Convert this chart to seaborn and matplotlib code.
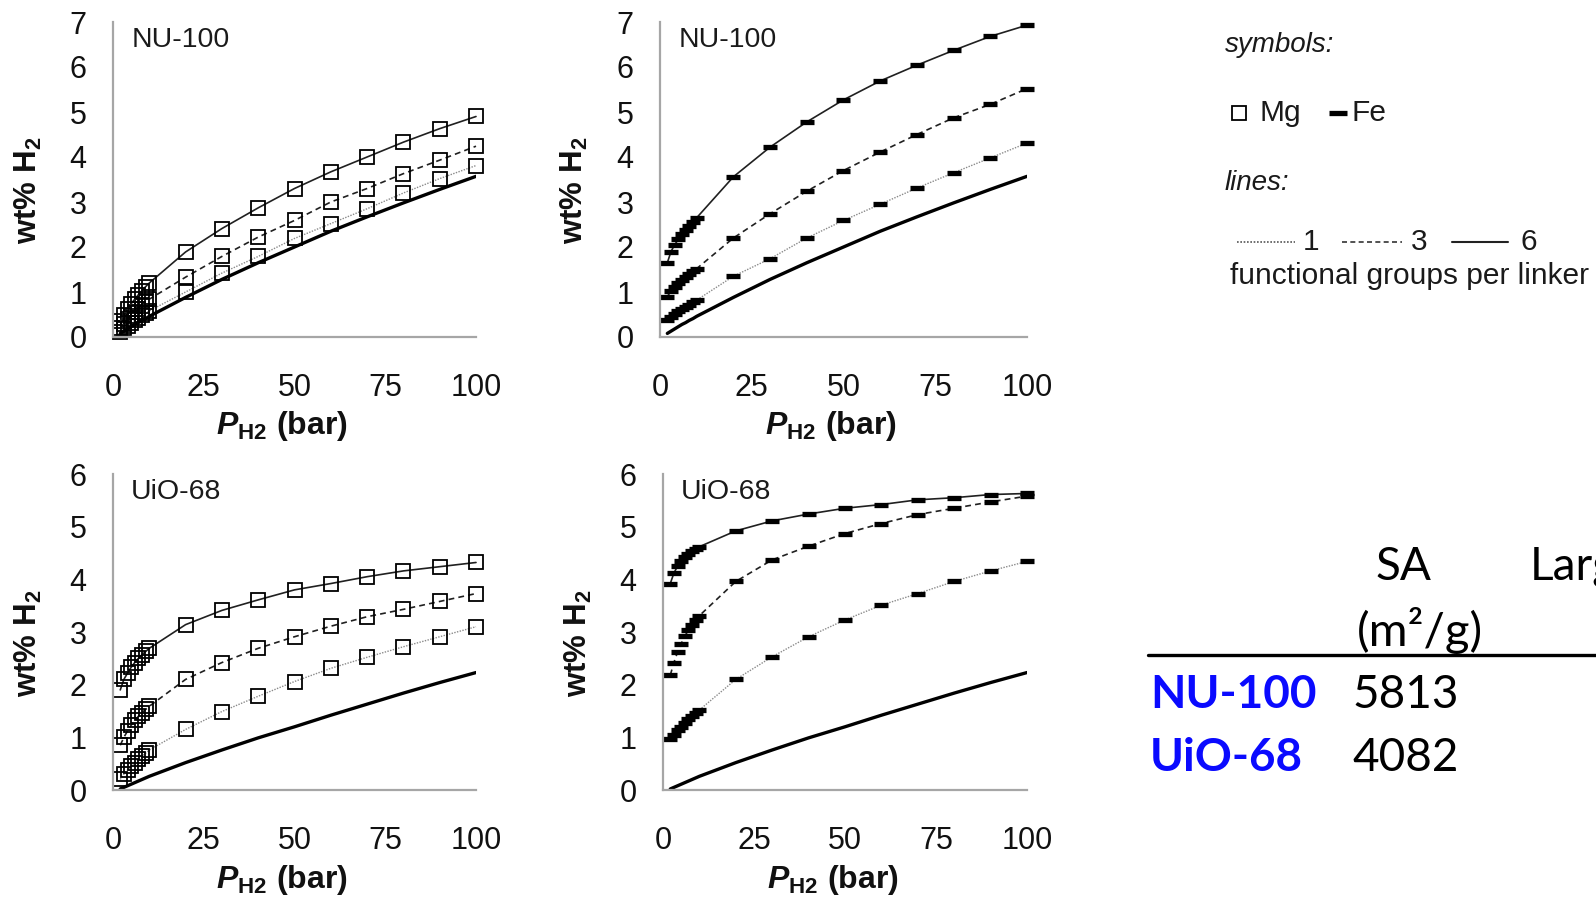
import matplotlib
matplotlib.use('Agg')
import matplotlib.pyplot as plt
import seaborn as sns

# pressures (bar) at which the isotherms were sampled
pressure = [2, 3, 4, 5, 6, 7, 8, 9, 10, 20, 30, 40, 50, 60, 70, 80, 90, 100]

# bare framework (thick solid line)
nu100_base = [0.08, 0.13, 0.18, 0.23, 0.28, 0.32, 0.37, 0.41, 0.46,
              0.88, 1.28, 1.65, 2.00, 2.35, 2.67, 2.98, 3.28, 3.57]
uio68_base = [0.02, 0.05, 0.08, 0.11, 0.14, 0.17, 0.20, 0.23, 0.26,
              0.52, 0.76, 0.99, 1.20, 1.42, 1.63, 1.84, 2.04, 2.23]

# NU-100, Mg (1, 3, 6 functional groups per linker)
nu100_mg_1 = [0.12, 0.19, 0.25, 0.31, 0.37, 0.43, 0.48, 0.53, 0.58,
              1.00, 1.42, 1.79, 2.19, 2.52, 2.85, 3.20, 3.52, 3.81]
nu100_mg_3 = [0.20, 0.30, 0.39, 0.47, 0.55, 0.63, 0.70, 0.77, 0.84,
              1.33, 1.79, 2.22, 2.59, 3.00, 3.30, 3.63, 3.93, 4.24]
nu100_mg_6 = [0.35, 0.50, 0.62, 0.74, 0.84, 0.94, 1.03, 1.12, 1.20,
              1.89, 2.41, 2.87, 3.30, 3.67, 4.00, 4.33, 4.63, 4.90]

# NU-100, Fe
nu100_fe_1 = [0.38, 0.45, 0.52, 0.57, 0.62, 0.67, 0.72, 0.77, 0.82,
              1.35, 1.74, 2.20, 2.59, 2.95, 3.31, 3.65, 3.98, 4.31]
nu100_fe_3 = [0.90, 1.02, 1.12, 1.20, 1.27, 1.34, 1.40, 1.46, 1.52,
              2.20, 2.74, 3.24, 3.70, 4.11, 4.50, 4.87, 5.17, 5.52]
nu100_fe_6 = [1.65, 1.90, 2.05, 2.17, 2.28, 2.38, 2.47, 2.56, 2.65,
              3.56, 4.22, 4.78, 5.27, 5.69, 6.04, 6.37, 6.68, 6.93]

# UiO-68, Mg
uio68_mg_1 = [0.20, 0.30, 0.38, 0.45, 0.52, 0.58, 0.64, 0.70, 0.76,
              1.15, 1.49, 1.78, 2.06, 2.31, 2.52, 2.72, 2.91, 3.10]
uio68_mg_3 = [0.85, 1.00, 1.12, 1.23, 1.32, 1.40, 1.47, 1.53, 1.59,
              2.10, 2.42, 2.69, 2.91, 3.11, 3.29, 3.43, 3.58, 3.73]
uio68_mg_6 = [1.90, 2.10, 2.22, 2.33, 2.42, 2.50, 2.57, 2.63, 2.69,
              3.14, 3.41, 3.61, 3.80, 3.92, 4.05, 4.16, 4.24, 4.32]

# UiO-68, Fe
uio68_fe_1 = [0.96, 1.05, 1.13, 1.20, 1.27, 1.34, 1.40, 1.46, 1.52,
              2.10, 2.53, 2.91, 3.23, 3.51, 3.73, 3.96, 4.16, 4.34]
uio68_fe_3 = [2.18, 2.42, 2.62, 2.78, 2.92, 3.04, 3.14, 3.23, 3.31,
              3.96, 4.37, 4.63, 4.87, 5.06, 5.23, 5.35, 5.47, 5.58]
uio68_fe_6 = [3.92, 4.12, 4.25, 4.35, 4.43, 4.49, 4.54, 4.58, 4.62,
              4.92, 5.11, 5.24, 5.35, 5.42, 5.51, 5.55, 5.61, 5.63]

# side table
table_names = ['NU-100', 'UiO-68']
table_sa = ['5813', '4082']

sns.set_style('white')
plt.rcParams['font.family'] = ['Liberation Sans', 'DejaVu Sans']
plt.rcParams['mathtext.fontset'] = 'custom'
plt.rcParams['mathtext.rm'] = 'Liberation Sans'
plt.rcParams['mathtext.it'] = 'Liberation Sans:italic'
plt.rcParams['mathtext.bf'] = 'Liberation Sans:bold'
plt.rcParams['mathtext.bfit'] = 'Liberation Sans:italic:bold'

W, H = 1596, 899
fig = plt.figure(figsize=(W / 100, H / 100), dpi=100)


def px_axes(x0, y0, x1, y1):
    return fig.add_axes([x0 / W, 1 - y1 / H, (x1 - x0) / W, (y1 - y0) / H])


marker_style = {
    'Mg': dict(marker='s', markersize=10, markerfacecolor='none',
               markeredgecolor='black', markeredgewidth=1.3),
    'Fe': dict(marker='_', markersize=10, markeredgecolor='black',
               markeredgewidth=3.8),
}


def draw_panel(ax, name, ymax, base, c1, c3, c6, metal):
    sns.lineplot(x=pressure, y=base, ax=ax, color='black', linewidth=2.4)
    curves = [(c1, (0, (1, 1)), 1.0, '#8a8a8a'),
              (c3, (0, (3.5, 2.5)), 1.2, '#202020'),
              (c6, '-', 1.2, '#202020')]
    for vals, ls, lw, col in curves:
        sns.lineplot(x=pressure, y=vals, ax=ax, color=col, linestyle=ls,
                     linewidth=lw, clip_on=False, **marker_style[metal])
    ax.set_xlim(0, 100)
    ax.set_ylim(0, ymax)
    ax.set_xticks([0, 25, 50, 75, 100])
    ax.set_xticks([12.5, 37.5, 62.5, 87.5], minor=True)
    ax.set_yticks(range(ymax + 1))
    ax.tick_params(which='both', direction='in', length=6, width=1.2,
                   color='#a0a0a0', labelsize=22, labelcolor='#111111')
    ax.tick_params(axis='x', which='both', pad=26)
    ax.tick_params(axis='y', pad=19)
    for s in ['top', 'right']:
        ax.spines[s].set_visible(False)
    for s in ['left', 'bottom']:
        ax.spines[s].set_color('#a6a6a6')
        ax.spines[s].set_linewidth(1.6)
    ax.text(0.05, 0.985, name, transform=ax.transAxes, ha='left', va='top',
            fontsize=20.5, color='#1a1a1a')
    ax.set_xlabel(r'$\mathbfit{P}_{\mathbf{H2}}$ (bar)', fontsize=23,
                  fontweight='bold', color='#111111', va='top')
    ax.xaxis.set_label_coords(0.466, -0.23)
    ax.set_ylabel(r'wt% H$_{\mathbf{2}}$', fontsize=22.5, fontweight='bold',
                  color='#111111')
    ax.yaxis.set_label_coords(-0.19, 0.465)


ax_tl = px_axes(113, 22, 476, 337)
ax_tr = px_axes(660, 22, 1027, 337)
ax_bl = px_axes(113, 474, 476, 790)
ax_br = px_axes(663, 474, 1027, 790)

draw_panel(ax_tl, 'NU-100', 7, nu100_base, nu100_mg_1, nu100_mg_3, nu100_mg_6, 'Mg')
draw_panel(ax_tr, 'NU-100', 7, nu100_base, nu100_fe_1, nu100_fe_3, nu100_fe_6, 'Fe')
draw_panel(ax_bl, 'UiO-68', 6, uio68_base, uio68_mg_1, uio68_mg_3, uio68_mg_6, 'Mg')
draw_panel(ax_br, 'UiO-68', 6, uio68_base, uio68_fe_1, uio68_fe_3, uio68_fe_6, 'Fe')

# overlay in pixel coordinates for the key and the table
ov = fig.add_axes([0, 0, 1, 1])
ov.set_xlim(0, W)
ov.set_ylim(H, 0)
ov.axis('off')

tc = '#1a1a1a'
ov.text(1225, 45, 'symbols:', style='italic', fontsize=20, va='center', color=tc)
ov.plot([1239], [113], **marker_style['Mg'])
ov.text(1259, 113, 'Mg', fontsize=21.5, va='center', color=tc)
ov.plot([1338], [113], **{**marker_style['Fe'], 'markersize': 13})
ov.text(1352, 113, 'Fe', fontsize=21.5, va='center', color=tc)
ov.text(1225, 183, 'lines:', style='italic', fontsize=20, va='center', color=tc)
ov.plot([1237, 1295], [242, 242], color='#555555', linestyle=(0, (1, 1)), linewidth=1.2)
ov.text(1303, 242, '1', fontsize=21.5, va='center', color=tc)
ov.plot([1342, 1402], [242, 242], color='#333333', linestyle=(0, (3, 2)), linewidth=1.2)
ov.text(1411, 242, '3', fontsize=21.5, va='center', color=tc)
ov.plot([1452, 1508], [242, 242], color='#222222', linewidth=1.5)
ov.text(1521, 242, '6', fontsize=21.5, va='center', color=tc)
ov.text(1230, 276, 'functional groups per linker', fontsize=21.5, va='center', color=tc)

tf = ['Lato', 'DejaVu Sans']
ov.text(1403, 567, 'SA', family=tf, fontsize=33, ha='center', va='center', color='black')
ov.text(1530, 567, 'Largest', family=tf, fontsize=33, ha='left', va='center', color='black')
ov.text(1420, 630, '(m²/g)', family=tf, fontsize=34, ha='center', va='center', color='black')
ov.plot([1148, W], [655, 655], color='black', linewidth=2.4)
for i, (nm, sa) in enumerate(zip(table_names, table_sa)):
    y = 695 + i * 63
    ov.text(1150, y, nm, family=tf, fontsize=33, fontweight='bold', color='#0a0aff',
            ha='left', va='center')
    ov.text(1352, y, sa, family=tf, fontsize=33, color='black', ha='left', va='center')

fig.savefig('out.png', dpi=100)
